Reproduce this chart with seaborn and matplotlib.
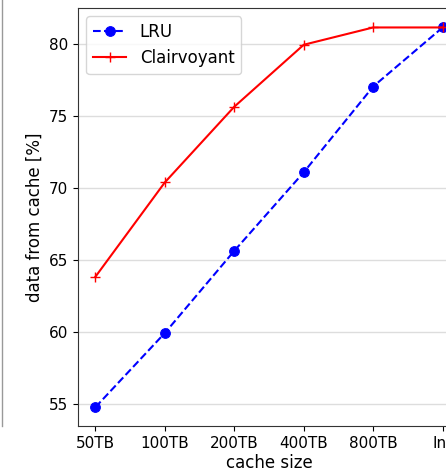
import matplotlib
matplotlib.use("Agg")
import matplotlib.pyplot as plt
import seaborn as sns
import pandas as pd
from matplotlib.lines import Line2D

sizes = ["50TB", "100TB", "200TB", "400TB", "800TB", "Inf"]
lru = [54.8, 59.95, 65.65, 71.1, 77.05, 81.15]
clairvoyant = [63.85, 70.4, 75.65, 79.95, 81.15, 81.15]

pos = list(range(len(sizes)))
df_lru = pd.DataFrame({"x": pos, "y": lru})
df_cl = pd.DataFrame({"x": pos, "y": clairvoyant})

plt.rcParams["font.family"] = ["DejaVu Sans"]
fig = plt.figure(figsize=(4.46, 4.75), dpi=100)
ax = fig.add_axes([78 / 446, 49 / 475, (460 - 78) / 446, (426 - 8) / 475])

sns.lineplot(data=df_lru, x="x", y="y", ax=ax, color="blue", linestyle="--",
             marker="o", markersize=7, markeredgecolor="blue", label="LRU",
             linewidth=1.5, sort=False)
sns.lineplot(data=df_cl, x="x", y="y", ax=ax, color="red", linestyle="-",
             marker="+", markersize=7, markeredgewidth=1.0, markeredgecolor="red",
             label="Clairvoyant", linewidth=1.5, sort=False)

ax.set_xticks(pos)
ax.set_xticklabels(sizes, fontsize=11)
ax.set_yticks([55, 60, 65, 70, 75, 80])
ax.tick_params(axis="y", labelsize=11)
ax.set_xlim(-0.25, 5.25)
ax.set_ylim(53.5, 82.5)
ax.set_xlabel("cache size", fontsize=12, labelpad=2)
ax.set_ylabel("data from cache [%]", fontsize=12)
ax.yaxis.grid(True, color="#dddddd", linewidth=1)
ax.set_axisbelow(True)
for s in ax.spines.values():
    s.set_color("#333333")

leg = ax.legend(loc="upper left", fontsize=12, frameon=True)

fig.add_artist(Line2D([2 / 446, 2 / 446], [49 / 475, 1.0], transform=fig.transFigure,
                      color="#999999", linewidth=1))

fig.savefig("out.png", dpi=100)
